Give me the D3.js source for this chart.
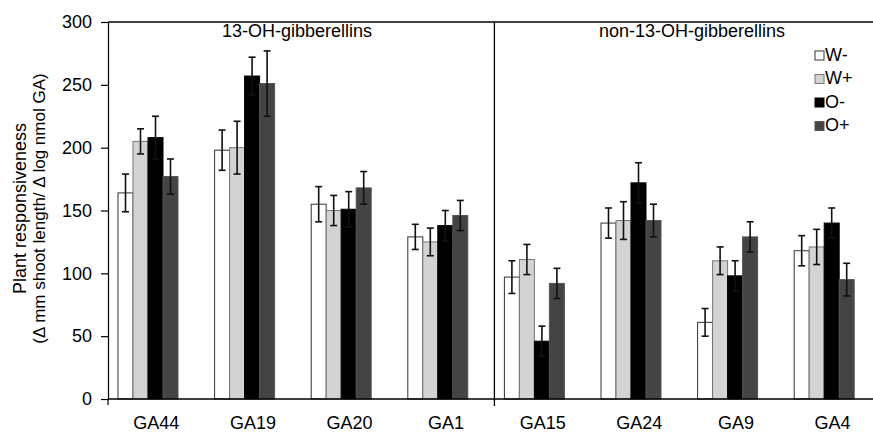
<!DOCTYPE html>
<html>
<head>
<meta charset="utf-8">
<script src="https://cdn.jsdelivr.net/npm/d3@7"></script>
<style>
  body { margin: 0; background: #fff; }
  svg text { font-family: "Liberation Sans", Arial, sans-serif; fill: #000; }
</style>
</head>
<body>
<svg id="chart" width="873" height="435"></svg>
<script>
// gibberellins on the x axis, in two groups of four
var categories = ['GA44', 'GA19', 'GA20', 'GA1', 'GA15', 'GA24', 'GA9', 'GA4'];
var series = ['W-', 'W+', 'O-', 'O+'];
var group_labels = ['13-OH-gibberellins', 'non-13-OH-gibberellins'];

// mean responsiveness per series, one value per category
var w_minus = [164, 198, 155, 129, 97, 140, 61, 118];
var w_plus = [205, 200, 150, 125, 111, 142, 110, 121];
var o_minus = [208, 257, 151, 138, 46, 172, 98, 140];
var o_plus = [177, 251, 168, 146, 92, 142, 129, 95];

// error (half length of the bar) per series
var w_minus_err = [15, 16, 14, 10, 13, 12, 11, 12];
var w_plus_err = [10, 21, 12, 11, 12, 15, 11, 14];
var o_minus_err = [17, 15, 14, 12, 12, 16, 12, 12];
var o_plus_err = [14, 26, 13, 12, 12, 13, 12, 13];

var y_ticks = [0, 50, 100, 150, 200, 250, 300];

var values = [w_minus, w_plus, o_minus, o_plus];
var errors = [w_minus_err, w_plus_err, o_minus_err, o_plus_err];
var fills = ['#ffffff', '#d3d3d3', '#000000', '#444444'];
var strokes = ['#333333', '#777777', '#000000', '#555555'];

var svg = d3.select('#chart');
var margin = {left: 108, top: 22, bottom: 399};

var x = d3.scaleBand()
  .domain(categories)
  .range([margin.left, margin.left + 96.6 * categories.length]);

// bars sit in the left part of each band
var x_inner = d3.scaleBand()
  .domain(series)
  .range([10, 70]);

var y = d3.scaleLinear()
  .domain([0, 300])
  .range([margin.bottom, margin.top]);

// flatten into one record per bar
var bars = [];
series.forEach(function(s, i) {
  categories.forEach(function(c, j) {
    bars.push({cat: c, ser: s, si: i, value: values[i][j], err: errors[i][j]});
  });
});

var bar_group = svg.append('g').attr('class', 'bars');

bar_group.selectAll('rect')
  .data(bars)
  .enter()
  .append('rect')
  .attr('x', function(d) { return x(d.cat) + x_inner(d.ser); })
  .attr('y', function(d) { return y(d.value); })
  .attr('width', x_inner.bandwidth())
  .attr('height', function(d) { return y(0) - y(d.value); })
  .attr('fill', function(d) { return fills[d.si]; })
  .attr('stroke', function(d) { return strokes[d.si]; })
  .attr('stroke-width', 1);

// error bars
var err_group = svg.append('g').attr('class', 'errors')
  .selectAll('g')
  .data(bars)
  .enter()
  .append('g')
  .attr('transform', function(d) {
    return 'translate(' + (x(d.cat) + x_inner(d.ser) + x_inner.bandwidth() / 2) + ',0)';
  });

err_group.append('line')
  .attr('y1', function(d) { return y(d.value + d.err); })
  .attr('y2', function(d) { return y(d.value - d.err); })
  .attr('stroke', '#111')
  .attr('stroke-width', 1.6);

err_group.selectAll('.cap')
  .data(function(d) { return [d.value + d.err, d.value - d.err]; })
  .enter()
  .append('line')
  .attr('class', 'cap')
  .attr('x1', -3.5)
  .attr('x2', 3.5)
  .attr('y1', function(v) { return y(v); })
  .attr('y2', function(v) { return y(v); })
  .attr('stroke', '#111')
  .attr('stroke-width', 1.6);

// y axis
var y_axis = svg.append('g')
  .attr('transform', 'translate(' + margin.left + ',0)')
  .call(d3.axisLeft(y).tickValues(y_ticks).tickSize(7).tickSizeOuter(0).tickPadding(9));

y_axis.select('.domain').attr('stroke', '#000').attr('stroke-width', 1.2);
y_axis.selectAll('.tick line').attr('stroke', '#000').attr('stroke-width', 1.2);
y_axis.selectAll('.tick text')
  .style('font-size', '18px')
  .attr('fill', '#000');

// x axis labels
var x_axis = svg.append('g')
  .attr('transform', 'translate(0,' + margin.bottom + ')')
  .call(d3.axisBottom(x).tickSize(0).tickPadding(17).tickSizeOuter(0));

x_axis.select('.domain').remove();
x_axis.selectAll('.tick text')
  .style('font-size', '18px')
  .attr('fill', '#000');

// baseline, top frame and group divider
svg.append('line')
  .attr('x1', margin.left).attr('x2', 873)
  .attr('y1', y(0)).attr('y2', y(0))
  .attr('stroke', '#000').attr('stroke-width', 1.5);

svg.append('line')
  .attr('x1', margin.left).attr('x2', 873)
  .attr('y1', y(300)).attr('y2', y(300))
  .attr('stroke', '#000').attr('stroke-width', 1.5);

svg.append('line')
  .attr('x1', margin.left).attr('x2', margin.left)
  .attr('y1', y(0)).attr('y2', y(0) + 6)
  .attr('stroke', '#000').attr('stroke-width', 1.2);

var divider_x = x(categories[4]);
svg.append('line')
  .attr('x1', divider_x).attr('x2', divider_x)
  .attr('y1', y(300)).attr('y2', y(0) + 7)
  .attr('stroke', '#000').attr('stroke-width', 1.3);

// group titles
svg.selectAll('.group_label')
  .data(group_labels)
  .enter()
  .append('text')
  .attr('class', 'group_label')
  .attr('x', function(d, i) { return i === 0 ? 297 : 692; })
  .attr('y', 37)
  .attr('text-anchor', 'middle')
  .style('font-size', '18px')
  .text(function(d) { return d; });

// y axis title
var y_title = svg.append('text')
  .attr('transform', 'translate(26,' + (y(150) - 2) + ') rotate(-90)')
  .attr('text-anchor', 'middle')
  .style('font-size', '17px');

y_title.append('tspan').attr('x', 0).attr('dy', 0).style('font-size', '18px').text('Plant responsiveness');
y_title.append('tspan').attr('x', 0).attr('dy', 19).text('(\u0394 mm shoot length/ \u0394 log nmol GA)');

// legend
var legend = svg.append('g')
  .attr('transform', 'translate(815,51)')
  .selectAll('g')
  .data(series)
  .enter()
  .append('g')
  .attr('transform', function(d, i) { return 'translate(0,' + i * 23.5 + ')'; });

legend.append('rect')
  .attr('width', 9)
  .attr('height', 9)
  .attr('fill', function(d, i) { return fills[i]; })
  .attr('stroke', function(d, i) { return strokes[i]; })
  .attr('stroke-width', 1);

legend.append('text')
  .attr('x', 10)
  .attr('y', 9.5)
  .style('font-size', '18px')
  .text(function(d) { return d; });
</script>
</body>
</html>
